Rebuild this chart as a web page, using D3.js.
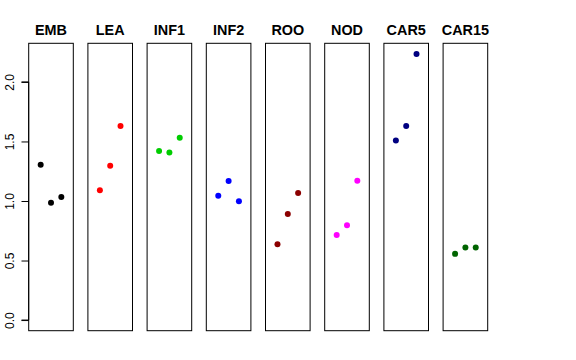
<!DOCTYPE html>
<html><head><meta charset="utf-8">
<script src="https://cdn.jsdelivr.net/npm/d3@7"></script>
<style>body{margin:0;background:#fff}svg{display:block}</style>
</head><body>
<script>
const categories = ["EMB","LEA","INF1","INF2","ROO","NOD","CAR5","CAR15"];
const colors = ["#000000","#FF0000","#00CD00","#0000FF","#8B0000","#FF00FF","#000080","#006400"];
const values = [
  [1.305, 0.986, 1.034],
  [1.090, 1.296, 1.629],
  [1.419, 1.408, 1.531],
  [1.045, 1.168, 0.997],
  [0.637, 0.891, 1.067],
  [0.715, 0.796, 1.170],
  [1.509, 1.629, 2.235],
  [0.556, 0.609, 0.609]
];
const yTicks = [0, 0.5, 1.0, 1.5, 2.0];

const W = 576, H = 360;
const svg = d3.select("body").append("svg").attr("width", W).attr("height", H);

const plotTop = 43.3, plotBottom = 330.7;
const panelLeft0 = 28.7, panelW = 44.6, step = 59.2;

const ymax = d3.max(values.flat());
const ypad = 0.04 * ymax;
const y = d3.scaleLinear().domain([0 - ypad, ymax + ypad]).range([plotBottom, plotTop]);

categories.forEach((c, i) => {
  const x0 = panelLeft0 + i * step;
  const x = d3.scaleLinear().domain([-0.16, 4.16]).range([x0, x0 + panelW]);
  const g = svg.append("g");
  g.append("rect").attr("x", x0).attr("y", plotTop).attr("width", panelW).attr("height", plotBottom - plotTop)
    .attr("fill", "none").attr("stroke", "#000").attr("stroke-width", 1);
  g.selectAll("circle").data(values[i]).join("circle")
    .attr("cx", (d, j) => x(j + 1)).attr("cy", d => y(d)).attr("r", 3)
    .attr("fill", colors[i]);
  g.append("text").attr("x", x0 + panelW / 2).attr("y", 34.5)
    .attr("text-anchor", "middle").attr("font-family", "Liberation Sans, Arial, sans-serif")
    .attr("font-weight", "bold").attr("font-size", 14.4).text(c);
});

const axis = d3.axisLeft(y).tickValues(yTicks).tickFormat(d3.format(".1f")).tickSize(7.2).tickPadding(0);
const ag = svg.append("g").attr("transform", `translate(${panelLeft0},0)`).call(axis);
ag.select(".domain").attr("d", `M-7.2,${y(0)}H0V${y(2)}H-7.2`).attr("stroke", "#000");
ag.selectAll(".tick line").attr("stroke", "#000");
ag.selectAll(".tick text").attr("font-family", "Liberation Sans, Arial, sans-serif")
  .attr("font-size", 12).attr("fill", "#000")
  .attr("x", null).attr("dy", null)
  .attr("text-anchor", "middle")
  .attr("transform", "translate(-15.2,0) rotate(-90)")
  .attr("y", 0).attr("dy", 0);
</script>
</body></html>
